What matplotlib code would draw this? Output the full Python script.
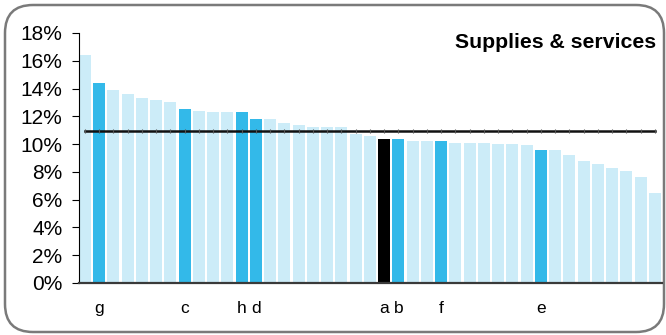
import matplotlib
matplotlib.use("Agg")
import matplotlib.pyplot as plt
from matplotlib.patches import FancyBboxPatch
from matplotlib.ticker import FuncFormatter

plt.rcParams['font.family'] = ['Liberation Sans', 'DejaVu Sans']

# bar values (%), sorted descending
values = [16.4, 14.4, 13.9, 13.6, 13.3, 13.15, 13.0, 12.55, 12.4, 12.3,
          12.3, 12.3, 11.8, 11.8, 11.5, 11.4, 11.25, 11.2, 11.2, 10.7,
          10.55, 10.4, 10.35, 10.25, 10.2, 10.2, 10.1, 10.1, 10.05, 10.0,
          10.0, 9.9, 9.6, 9.6, 9.25, 8.8, 8.55, 8.25, 8.05, 7.6, 6.45]
# which bar gets which letter
labels = {1: 'g', 7: 'c', 11: 'h', 12: 'd', 21: 'a', 22: 'b', 25: 'f', 32: 'e'}
black_bar = 21
average = 10.95
title = 'Supplies & services'

light = '#CCECF8'
strong = '#33B9E9'

colors = []
for i in range(len(values)):
    if i == black_bar:
        colors.append('#000000')
    elif i in labels:
        colors.append(strong)
    else:
        colors.append(light)

fig = plt.figure(figsize=(6.66, 3.35), dpi=100)

# rounded frame round the whole picture
bg = fig.add_axes([0, 0, 1, 1], zorder=-1)
bg.set_xlim(0, 666)
bg.set_ylim(335, 0)
bg.axis('off')
bg.add_patch(FancyBboxPatch((5, 5), 659, 327, boxstyle='round,pad=0,rounding_size=28',
                            facecolor='white', edgecolor='#7a7a7a', linewidth=1.8))

ax = fig.add_axes([79 / 666, 1 - 283 / 335, (662 - 79) / 666, (283 - 33) / 335])
ax.patch.set_alpha(0)
x = list(range(len(values)))
ax.bar(x, values, width=0.84, color=colors, zorder=2)
ax.plot([0, len(values) - 1], [average, average], color='#111111', linewidth=1.8, zorder=3)
ax.plot(x, [average] * len(values), linestyle='none', marker='|', markersize=2.5,
        color='#555555', markeredgewidth=0.8, zorder=4)

ax.set_xlim(-0.42, 40.5)
ax.set_ylim(0, 18)
ax.set_yticks(range(0, 19, 2))
ax.yaxis.set_major_formatter(FuncFormatter(lambda v, p: '%d%%' % v))
ax.set_xticks(list(labels.keys()))
ax.set_xticklabels(list(labels.values()))
ax.tick_params(axis='x', length=0, pad=13, labelsize=12.5)
ax.tick_params(axis='y', length=5, width=0.8, labelsize=15, pad=7)

for s in ['top', 'right']:
    ax.spines[s].set_visible(False)
ax.spines['left'].set_color('#000000')
ax.spines['left'].set_linewidth(0.8)
ax.spines['bottom'].set_color('#3a3a3a')
ax.spines['bottom'].set_linewidth(1.6)
ax.spines['bottom'].set_zorder(5)

fig.text(656 / 666, 1 - 43 / 335, title, ha='right', va='center',
         fontsize=15.3, fontweight='bold')

fig.savefig('out.png', dpi=100)
